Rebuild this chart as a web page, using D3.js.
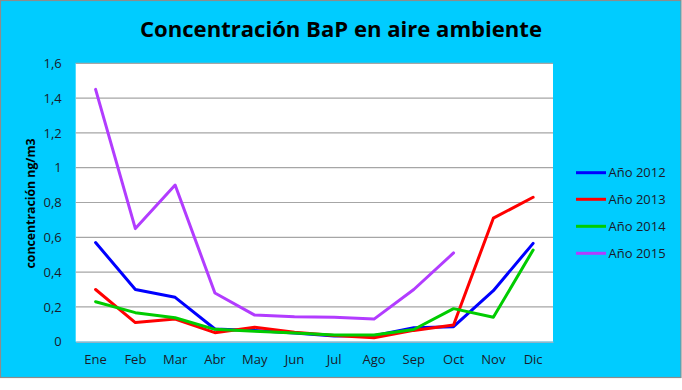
<!DOCTYPE html>
<html>
<head>
<meta charset="utf-8">
<script src="https://cdn.jsdelivr.net/npm/d3@7"></script>
<style>
  html, body { margin: 0; padding: 0; background: #ffffff; }
  svg { display: block; }
</style>
</head>
<body>
<svg id="chart" width="682" height="390"></svg>
<script>
const months = ["Ene","Feb","Mar","Abr","May","Jun","Jul","Ago","Sep","Oct","Nov","Dic"];
const seriesNames = ["Año 2012","Año 2013","Año 2014","Año 2015"];
const seriesColors = ["#0000FF","#FF0000","#00CC00","#B23CFF"];
const v2012 = [0.57,0.30,0.255,0.073,0.065,0.05,0.033,0.035,0.08,0.086,0.293,0.565];
const v2013 = [0.30,0.11,0.13,0.052,0.083,0.055,0.035,0.023,0.065,0.096,0.71,0.83];
const v2014 = [0.23,0.167,0.138,0.071,0.06,0.05,0.038,0.038,0.07,0.19,0.14,0.527];
const v2015 = [1.45,0.65,0.90,0.28,0.153,0.143,0.14,0.13,0.30,0.51,null,null];
const yTicks = [0,0.2,0.4,0.6,0.8,1,1.2,1.4,1.6];
const titleText = "Concentración BaP en aire ambiente";
const yLabelText = "concentración ng/m3";

const allSeries = [v2012, v2013, v2014, v2015];

const svg = d3.select("#chart");
const W = 682, H = 390;
const fontMain = "'Open Sans', 'Noto Sans', sans-serif";

// chart background with border
svg.append("rect").attr("x",0.5).attr("y",0.5).attr("width",680.5).attr("height",377)
  .attr("fill","#00CCFF").attr("stroke","#8c8c8c").attr("stroke-width",1.2);

const plot = {left: 75.7, top: 63.3, right: 553, bottom: 341.7};

const x = d3.scaleBand().domain(months).range([plot.left, plot.right]).padding(0);
const y = d3.scaleLinear().domain([0,1.6]).range([plot.bottom, plot.top]);

// plot area
svg.append("rect").attr("x",plot.left).attr("y",plot.top)
  .attr("width",plot.right-plot.left).attr("height",plot.bottom-plot.top)
  .attr("fill","#ffffff");

// grid
svg.append("g").selectAll("line").data(yTicks.filter(d=>d>0)).join("line")
  .attr("x1",plot.left).attr("x2",plot.right)
  .attr("y1",d=>y(d)).attr("y2",d=>y(d))
  .attr("stroke","#a6a6a6").attr("stroke-width",1.2);

// y axis
const fmt = d => d3.format(".1f")(d).replace(".", ",").replace(/^0,0$/,"0").replace(/^1,0$/,"1");
const yAxis = d3.axisLeft(y).tickValues(yTicks).tickSize(0).tickPadding(14)
  .tickFormat(d => d===0 ? "0" : (d===1 ? "1" : d3.format(".1f")(d).replace(".", ",")));
const yg = svg.append("g").attr("transform",`translate(${plot.left},0)`).call(yAxis);
yg.select(".domain").remove();
yg.selectAll("text").attr("font-family",fontMain).attr("font-size",13).attr("fill","#1a1a2a");

// x axis
const xAxis = d3.axisBottom(x).tickSize(0).tickPadding(13);
const xg = svg.append("g").attr("transform",`translate(0,${plot.bottom})`).call(xAxis);
xg.select(".domain").attr("stroke","#8fb4c8").attr("stroke-width",1.5);
xg.selectAll("text").attr("font-family",fontMain).attr("font-size",13).attr("fill","#1a1a2a");

// lines
const line = d3.line()
  .defined(d => d.v !== null)
  .x(d => x(d.m) + x.bandwidth()/2)
  .y(d => y(d.v));

allSeries.forEach((vals,i) => {
  const data = months.map((m,j) => ({m, v: vals[j]}));
  svg.append("path").datum(data)
    .attr("fill","none").attr("stroke",seriesColors[i]).attr("stroke-width",3)
    .attr("stroke-linejoin","round").attr("stroke-linecap","round")
    .attr("d",line);
});

// title
svg.append("text").attr("x",341).attr("y",37.3).attr("text-anchor","middle")
  .attr("font-family",fontMain).attr("font-weight","bold").attr("font-size",22)
  .attr("fill","#000").attr("textLength",402).attr("lengthAdjust","spacingAndGlyphs")
  .text(titleText);

// y label
svg.append("text").attr("transform",`translate(35,${(plot.top+plot.bottom)/2+1}) rotate(-90)`)
  .attr("text-anchor","middle").attr("font-family",fontMain).attr("font-weight","bold")
  .attr("font-size",12).attr("fill","#000")
  .attr("textLength",130).attr("lengthAdjust","spacingAndGlyphs")
  .text(yLabelText);

// legend
const legY = [172.7,199.3,226.3,253.3];
const lg = svg.append("g");
seriesNames.forEach((name,i) => {
  lg.append("line").attr("x1",576).attr("x2",606).attr("y1",legY[i]).attr("y2",legY[i])
    .attr("stroke",seriesColors[i]).attr("stroke-width",3);
  lg.append("text").attr("x",608.5).attr("y",legY[i]).attr("dy","0.35em")
    .attr("font-family",fontMain).attr("font-size",13).attr("fill","#1a1a2a")
    .text(name);
});
</script>
</body>
</html>
